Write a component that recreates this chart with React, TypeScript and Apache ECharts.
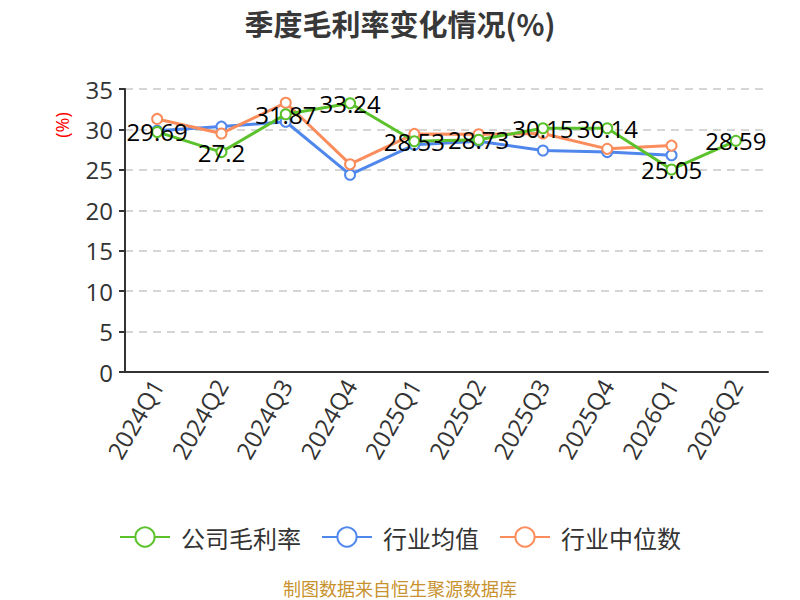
import React, { useEffect, useRef } from "react";
import * as echarts from "echarts";

const categories = ["2024Q1", "2024Q2", "2024Q3", "2024Q4", "2025Q1", "2025Q2", "2025Q3", "2025Q4", "2026Q1", "2026Q2"];
const companyMargin = [29.69, 27.2, 31.87, 33.24, 28.53, 28.73, 30.15, 30.14, 25.05, 28.59];
const industryMean = [29.85, 30.35, 30.95, 24.4, 28.1, 28.55, 27.4, 27.2, 26.8, null];
const industryMedian = [31.3, 29.5, 33.3, 25.7, 29.45, 29.4, 29.5, 27.6, 28.0, null];
const seriesNames = ["公司毛利率", "行业均值", "行业中位数"];
const yTicks = { min: 0, max: 35, interval: 5 };

const FONT = "'Open Sans', 'Noto Sans CJK SC', sans-serif";
const CJK = "'Noto Sans CJK SC', 'Noto Sans', sans-serif";

export default function App() {
  const ref = useRef<HTMLDivElement>(null);
  useEffect(() => {
    if (!ref.current) return;
    const chart = echarts.init(ref.current, null, { renderer: "svg" });
    const colors = ["#5bc22c", "#5087ec", "#fb8c5c"];
    chart.setOption({
      animation: false,
      color: colors,
      textStyle: { fontFamily: FONT },
      title: {
        text: "季度毛利率变化情况(%)",
        left: "center",
        top: 3,
        textStyle: { fontSize: 29, fontWeight: "bold", color: "#383838", fontFamily: CJK },
      },
      grid: { left: 125, right: 32, top: 89, bottom: 228 },
      legend: {
        top: 520,
        left: "center",
        itemWidth: 50,
        itemHeight: 24,
        itemGap: 20,
        textStyle: { fontSize: 24, color: "#333", fontFamily: CJK, padding: [0, 0, 0, 6] },
        data: seriesNames,
      },
      graphic: [
        {
          type: "text",
          x: 62,
          y: 125,
          rotation: Math.PI / 2,
          style: {
            text: "(%)",
            fill: "#ff0000",
            fontSize: 18,
            fontFamily: FONT,
            textAlign: "center",
            textVerticalAlign: "middle",
          },
        },
        {
          type: "text",
          left: "center",
          top: 579,
          style: {
            text: "制图数据来自恒生聚源数据库",
            fill: "#c8922e",
            fontSize: 18,
            fontFamily: CJK,
          },
        },
      ],
      xAxis: {
        type: "category",
        data: categories,
        boundaryGap: true,
        axisLine: { lineStyle: { color: "#333", width: 2 } },
        axisTick: { length: 6, lineStyle: { color: "#333", width: 2 } },
        axisLabel: { rotate: 60, fontSize: 24, color: "#333", margin: 9, fontFamily: FONT },
      },
      yAxis: {
        type: "value",
        min: yTicks.min,
        max: yTicks.max,
        interval: yTicks.interval,
        axisLine: { show: true, lineStyle: { color: "#333", width: 2 } },
        axisTick: { show: true, length: 6, lineStyle: { color: "#333", width: 2 } },
        axisLabel: { fontSize: 24, color: "#333", margin: 12, fontFamily: FONT },
        splitLine: { lineStyle: { type: [8, 6], color: "#c8c8c8", width: 1.5 } },
      },
      series: [
        {
          name: seriesNames[0],
          type: "line",
          data: companyMargin,
          symbol: "emptyCircle",
          symbolSize: 10,
          lineStyle: { width: 3 },
          z: 3,
          label: {
            show: true,
            position: "inside",
            fontSize: 24,
            color: "#000",
            fontFamily: FONT,
          },
        },
        {
          name: seriesNames[1],
          type: "line",
          data: industryMean,
          symbol: "emptyCircle",
          symbolSize: 10,
          lineStyle: { width: 3 },
          z: 2,
        },
        {
          name: seriesNames[2],
          type: "line",
          data: industryMedian,
          symbol: "emptyCircle",
          symbolSize: 10,
          lineStyle: { width: 3 },
          z: 2,
        },
      ],
    });
    return () => chart.dispose();
  }, []);
  return <div ref={ref} style={{ position: "absolute", left: 0, top: 0, width: 800, height: 600 }} />;
}
